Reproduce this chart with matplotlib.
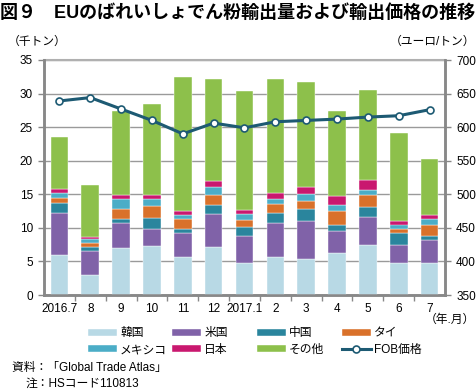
import matplotlib.pyplot as plt
import numpy as np

plt.rcParams['font.family'] = ['Liberation Sans', 'Noto Sans CJK JP']

months = ["2016.7", "8", "9", "10", "11", "12", "2017.1", "2", "3", "4", "5", "6", "7"]

# 千トン
korea = [6.0, 3.0, 6.95, 7.35, 5.65, 7.2, 4.75, 5.7, 5.4, 6.2, 7.4, 4.75, 4.75]
usa = [6.2, 3.55, 3.75, 2.45, 3.6, 4.85, 4.0, 4.95, 5.6, 3.4, 4.2, 2.7, 3.5]
china = [1.5, 0.65, 0.6, 1.7, 0.65, 1.3, 1.4, 1.6, 1.85, 0.9, 1.5, 1.75, 0.5]
thai = [0.7, 0.6, 1.5, 1.8, 1.4, 1.6, 1.0, 1.3, 1.1, 1.95, 1.75, 0.7, 1.7]
mexico = [0.75, 0.55, 1.45, 0.95, 0.6, 1.15, 0.95, 0.75, 1.1, 1.0, 0.8, 0.6, 0.85]
japan = [0.7, 0.35, 0.6, 0.65, 0.6, 0.95, 0.5, 0.95, 1.0, 1.35, 1.5, 0.45, 0.55]
others = [7.65, 7.75, 12.55, 13.5, 20.0, 15.15, 17.8, 16.9, 15.6, 12.55, 13.45, 13.2, 8.45]

# ユーロ/トン
fob = [639, 644, 627, 610, 590, 606, 599, 608, 610, 612, 615, 617, 626]

series = [
    ("韓国", korea, "#b8d9e5"),
    ("米国", usa, "#8062a8"),
    ("中国", china, "#2a859d"),
    ("タイ", thai, "#d9712a"),
    ("メキシコ", mexico, "#4badc7"),
    ("日本", japan, "#c9186f"),
    ("その他", others, "#8dc04b"),
]

fig = plt.figure(figsize=(4.77, 3.92), dpi=100)
ax = fig.add_axes([44 / 477, 1 - 295 / 392, 401 / 477, 235 / 392])
ax2 = ax.twinx()

x = np.arange(len(months))
bottom = np.zeros(len(months))
handles = {}
for name, vals, col in series:
    b = ax.bar(x, vals, width=0.57, bottom=bottom, color=col, label=name,
               edgecolor="white", linewidth=0.3, zorder=3)
    handles[name] = b
    bottom += np.array(vals)

line, = ax2.plot(x, fob, color="#1d5a73", lw=2.2, marker="o", ms=5,
                 mfc="white", mec="#1d5a73", mew=1.2, label="FOB価格", zorder=5)
handles["FOB価格"] = line

ax.set_xlim(-0.5, len(months) - 0.5)
ax.set_ylim(0, 35)
ax.set_yticks(range(0, 36, 5))
ax2.set_ylim(350, 700)
ax2.set_yticks(range(350, 701, 50))

ax.yaxis.grid(True, color="#9a9a9a", lw=1.0, zorder=0)
ax.set_axisbelow(True)

ax.set_xticks(x)
ax.set_xticklabels(months)
ax.set_xticks(np.arange(0.5, len(months) - 1, 1.0), minor=True)
ax.tick_params(axis="x", which="major", length=0, labelsize=8.5, pad=6)
ax.tick_params(axis="x", which="minor", length=4, width=1, color="#888888", direction="out")
ax.tick_params(axis="y", length=4, width=1, color="#888888", labelsize=8.5, pad=4)
ax2.tick_params(axis="y", length=4, width=1, color="#888888", labelsize=8.5, pad=4)

for a in (ax, ax2):
    a.spines["top"].set_visible(False)
    for s in ("left", "right", "bottom"):
        a.spines[s].set_color("#888888")
        a.spines[s].set_linewidth(1.8)
ax.axhline(35, color="#b0b0b0", lw=1.5, zorder=1, clip_on=False)

# legend: 4 fixed-width columns, 2 rows
columns = [["韓国", "メキシコ"], ["米国", "日本"], ["中国", "その他"], ["タイ", "FOB価格"]]
col_x = [80, 164, 249, 334]
for names, cx in zip(columns, col_x):
    leg = fig.legend([handles[k] for k in names], names, loc="upper left",
                     bbox_to_anchor=(cx / 477, 1 - 319 / 392), frameon=False,
                     fontsize=8.5, handlelength=2.4, handleheight=0.55,
                     handletextpad=0.3, labelspacing=0.4, borderpad=0.2)

fig.text(0.0, 1 - 13 / 392, "図９　EUのばれいしょでん粉輸出量および輸出価格の推移",
         fontsize=13, fontweight="bold", va="center", ha="left")
fig.text(8 / 477, 1 - 42 / 392, "（千トン）", fontsize=8.5, va="center", ha="left")
fig.text(475 / 477, 1 - 42 / 392, "（ユーロ/トン）", fontsize=8.5, va="center", ha="right")
fig.text(475 / 477, 1 - 320 / 392, "（年.月）", fontsize=8.5, va="center", ha="right")
fig.text(12 / 477, 1 - 368 / 392, "資料：「Global Trade Atlas」", fontsize=8.5, va="center", ha="left")
fig.text(26 / 477, 1 - 384 / 392, "注：HSコード110813", fontsize=8.5, va="center", ha="left")

fig.savefig("out.png", dpi=100)
